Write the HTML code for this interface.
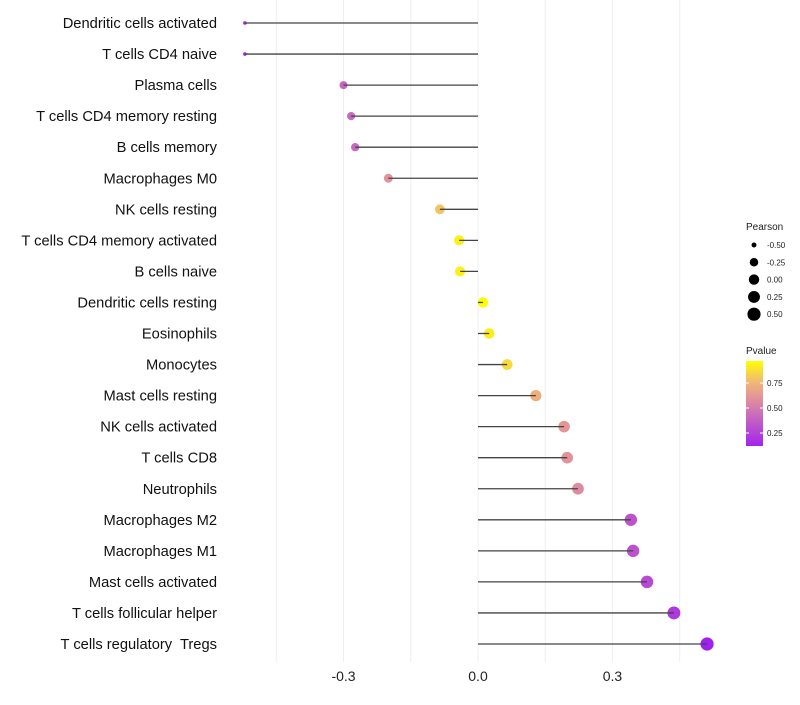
<!DOCTYPE html>
<html><head><meta charset="utf-8"><style>
body{margin:0;background:#fff;font-family:"Liberation Sans",sans-serif}
text{white-space:pre}
</style></head><body>
<svg id="c" width="800" height="700" xmlns="http://www.w3.org/2000/svg"></svg>
<script>
const categories=["Dendritic cells activated","T cells CD4 naive","Plasma cells","T cells CD4 memory resting","B cells memory","Macrophages M0","NK cells resting","T cells CD4 memory activated","B cells naive","Dendritic cells resting","Eosinophils","Monocytes","Mast cells resting","NK cells activated","T cells CD8","Neutrophils","Macrophages M2","Macrophages M1","Mast cells activated","T cells follicular helper","T cells regulatory  Tregs"];
const pearson=[-0.52,-0.52,-0.30,-0.283,-0.274,-0.20,-0.085,-0.042,-0.04,0.011,0.025,0.065,0.129,0.192,0.199,0.223,0.341,0.346,0.377,0.437,0.511];
const pvalue=[0.12,0.12,0.40,0.42,0.42,0.60,0.80,0.93,0.93,0.96,0.92,0.86,0.72,0.62,0.60,0.57,0.33,0.32,0.28,0.20,0.10];
const xTicks=[-0.3,0,0.3];
const xTickLabels=["-0.3","0.0","0.3"];
const gridVals=[-0.45,-0.3,-0.15,0,0.15,0.3,0.45];
const sizeLegend=[-0.5,-0.25,0,0.25,0.5];
const sizeLegendLabels=["-0.50","-0.25","0.00","0.25","0.50"];
const pLegend=[0.75,0.5,0.25];

const NS="http://www.w3.org/2000/svg";
const svg=document.getElementById('c');
const x=v=>478+v*448.3;
const y=i=>23+i*31.05;
const r=v=>1.8+4.8*Math.sqrt(Math.max(0,(v+0.52)/1.03));
const stops=[[0.1,[160,32,240]],[0.42,[200,105,190]],[0.62,[228,150,150]],[0.78,[242,190,110]],[0.97,[255,255,0]]];
function col(p){if(p<=stops[0][0])return `rgb(${stops[0][1]})`;for(let k=1;k<stops.length;k++){if(p<=stops[k][0]){const t=(p-stops[k-1][0])/(stops[k][0]-stops[k-1][0]);const a=stops[k-1][1],b=stops[k][1];return `rgb(${a.map((v,j)=>Math.round(v+(b[j]-v)*t)).join(',')})`;}}return `rgb(${stops[stops.length-1][1]})`;}
function el(t,a,txt){const e=document.createElementNS(NS,t);for(const k in a)e.setAttribute(k,a[k]);if(txt!==undefined)e.textContent=txt;svg.appendChild(e);return e;}

gridVals.forEach(g=>{const e=el('line',{x1:x(g),x2:x(g),y1:0,y2:662,stroke:'#efefef','stroke-width':1});

});
xTicks.forEach((t,i)=>{const e=el('text',{x:x(t),y:681,'text-anchor':'middle','font-size':14,fill:'#222'},xTickLabels[i]);

});
categories.forEach((c,i)=>{
const l=el('text',{x:217,y:y(i)+5,'text-anchor':'end','font-size':14.7,fill:'#111'},c);


const p=el('circle',{cx:x(pearson[i]),cy:y(i),r:r(pearson[i]),fill:col(pvalue[i])});


const s=el('line',{x1:x(0),x2:x(pearson[i]),y1:y(i),y2:y(i),stroke:'#444','stroke-width':1.3});


});
let t=el('text',{x:746,y:230,'font-size':10,fill:'#222'},'Pearson');


sizeLegend.forEach((v,i)=>{const cy=245+i*17.3;
const c=el('circle',{cx:754,cy:cy,r:r(v),fill:'#000'});


const tx=el('text',{x:767,y:cy+3,'font-size':8,fill:'#222'},sizeLegendLabels[i]);

});
t=el('text',{x:746,y:354,'font-size':10,fill:'#222'},'Pvalue');


const defs=el('defs',{});const lg=document.createElementNS(NS,'linearGradient');lg.setAttribute('id','g');lg.setAttribute('x1','0');lg.setAttribute('y1','1');lg.setAttribute('x2','0');lg.setAttribute('y2','0');defs.appendChild(lg);
const py=p=>433-(p-0.25)*100;
for(let k=0;k<=20;k++){const p=0.12+k*(0.97-0.12)/20;const s=document.createElementNS(NS,'stop');s.setAttribute('offset',k/20);s.setAttribute('stop-color',col(p));lg.appendChild(s);}
t=el('rect',{x:746,y:361,width:17,height:85,fill:'url(#g)'});


pLegend.forEach(p=>{el('line',{x1:746,x2:749,y1:py(p),y2:py(p),stroke:'#fff'});el('line',{x1:760,x2:763,y1:py(p),y2:py(p),stroke:'#fff'});
const tx=el('text',{x:767,y:py(p)+3,'font-size':8,fill:'#222'},p.toFixed(2));

});
</script>
</body></html>
